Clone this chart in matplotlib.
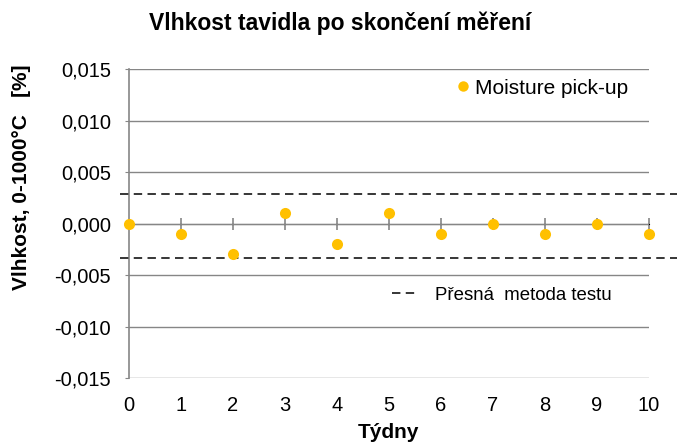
import numpy as np
import matplotlib.pyplot as plt
from matplotlib.ticker import FuncFormatter
from matplotlib.lines import Line2D

plt.rcParams['font.family'] = ['Liberation Sans', 'DejaVu Sans']

title = "Vlhkost tavidla po skončení měření"
weeks = [0, 1, 2, 3, 4, 5, 6, 7, 8, 9, 10]
moisture = [0.0, -0.001, -0.003, 0.001, -0.002, 0.001, -0.001, 0.0, -0.001, 0.0, -0.001]
limit_upper = 0.0029
limit_lower = -0.0033
yticks = [-0.015, -0.010, -0.005, 0.0, 0.005, 0.010, 0.015]

grey = '#868686'
orange = '#FFC000'

fig = plt.figure(figsize=(6.77, 4.43), dpi=100)
ax = fig.add_axes([0.1906, 0.1467, 0.7681, 0.6975])

ax.set_xlim(0, 10)
ax.set_ylim(-0.015, 0.015)
ax.set_yticks(yticks)
ax.set_xticks(weeks)
ax.yaxis.set_major_formatter(FuncFormatter(lambda v, p: f"{v:.3f}".replace('.', ',')))
ax.grid(axis='y', color=grey, lw=1)
ax.set_axisbelow(True)
for s in ['top', 'right', 'bottom']:
    ax.spines[s].set_visible(False)
ax.spines['left'].set_color(grey)
ax.spines['left'].set_linewidth(1.2)
ax.tick_params(axis='y', direction='out', length=3, color=grey, pad=10, labelsize=14.5)
ax.tick_params(axis='x', length=0, pad=13, labelsize=14.5)

# axis line crossing at zero with ticks
sec = ax.secondary_xaxis(0.5)
sec.set_xticks(weeks[1:])
sec.tick_params(direction='inout', length=9, color=grey, width=1.2,
                labelbottom=False, labeltop=False)
sec.spines['bottom'].set_color(grey)
sec.spines['bottom'].set_linewidth(1.2)

# accuracy limits (extend past plot area like in original)
xs = [-0.17, 10.6]
for lim in [limit_upper, limit_lower]:
    ax.plot(xs, [lim, lim], color='black', lw=1.1, dashes=(5.5, 3.5), clip_on=False, zorder=3)

ax.plot(weeks, moisture, 'o', color=orange, ms=8, mec='none', clip_on=False, zorder=4)

h1 = Line2D([], [], marker='o', ls='none', color=orange, ms=7.5, mec='none')
fig.legend([h1], ['Moisture pick-up'], loc='center left', bbox_to_anchor=(0.674, 0.801),
           frameon=False, borderpad=0, borderaxespad=0, handlelength=0.6, handletextpad=0.3,
           fontsize=15)
h2 = Line2D([], [], color='black', lw=1.1, dashes=(5.5, 3.5))
fig.legend([h2], ['Přesná  metoda testu'], loc='center left', bbox_to_anchor=(0.579, 0.334),
           frameon=False, borderpad=0, borderaxespad=0, handlelength=1.25, handletextpad=1.05,
           fontsize=13.4)

fig.text(340 / 677, 1 - 23 / 443, title, ha='center', va='center', fontsize=16.5, fontweight='bold')
fig.text(388 / 677, 1 - 432 / 443, 'Týdny', ha='center', va='center', fontsize=15, fontweight='bold')
fig.text(22 / 677, 1 - 177.5 / 443, 'Vlhkost, 0-1000°C   [%]', rotation=90, ha='center', va='center',
         fontsize=15, fontweight='bold')

plt.savefig('out.png', dpi=100)
